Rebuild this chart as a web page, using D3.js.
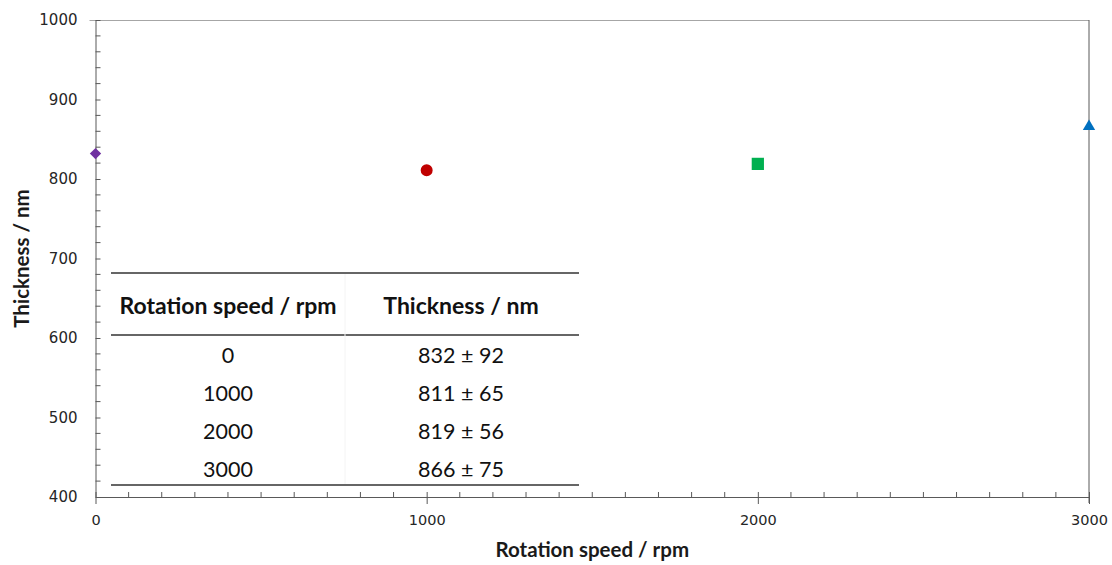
<!DOCTYPE html>
<html>
<head>
<meta charset="utf-8">
<script src="https://cdn.jsdelivr.net/npm/d3@7"></script>
<style>
  body { margin: 0; background: #fff; }
  svg { display: block; }
</style>
</head>
<body>
<div id="chart"></div>
<script>
// data
const speeds = [0, 1000, 2000, 3000];
const thickness = [832, 811, 819, 866];
const errors = [92, 65, 56, 75];
const colors = ['#7030A0', '#C00000', '#00B050', '#0070C0'];
const symbols = [d3.symbolSquare, d3.symbolCircle, d3.symbolSquare, d3.symbolTriangle];
const symbolSizes = [64, 113, 150, 66];
const symbolRotate = [45, 0, 0, 0];
const xTicks = [0, 1000, 2000, 3000];
const yTicks = [400, 500, 600, 700, 800, 900, 1000];
const tableHeader = ['Rotation speed / rpm', 'Thickness / nm'];

const W = 1112, H = 565;
const MARGIN = { TOP: 20, BOTTOM: 68, LEFT: 95.5, RIGHT: 23 };
const WIDTH = W - MARGIN.LEFT - MARGIN.RIGHT;
const HEIGHT = H - MARGIN.TOP - MARGIN.BOTTOM;
const axisColor = '#595959';
const tickFont = '"DejaVu Sans", sans-serif';
const titleFont = 'Lato, sans-serif';

const svg = d3.select('#chart')
    .append('svg')
    .attr('width', W)
    .attr('height', H)
    .append('g')
    .attr('transform', `translate(${MARGIN.LEFT}, ${MARGIN.TOP})`);

const x = d3.scaleLinear().domain([0, 3000]).range([0, WIDTH]);
const y = d3.scaleLinear().domain([400, 1000]).range([HEIGHT, 0]);

// frame top and right
svg.append('line')
    .attr('x1', -6).attr('x2', WIDTH).attr('y1', 0.5).attr('y2', 0.5)
    .attr('stroke', '#a6a6a6');
svg.append('line')
    .attr('x1', WIDTH).attr('x2', WIDTH).attr('y1', 0).attr('y2', HEIGHT + 6)
    .attr('stroke', axisColor);

// minor ticks
const xMinor = d3.range(100, 3000, 100).filter(v => v % 1000 !== 0);
svg.append('g').selectAll('line').data(xMinor).enter().append('line')
    .attr('x1', d => x(d)).attr('x2', d => x(d))
    .attr('y1', HEIGHT).attr('y2', HEIGHT - 5)
    .attr('stroke', axisColor);
const yMinor = d3.range(420, 1000, 20).filter(v => v % 100 !== 0);
svg.append('g').selectAll('line').data(yMinor).enter().append('line')
    .attr('x1', 0).attr('x2', 5)
    .attr('y1', d => y(d)).attr('y2', d => y(d))
    .attr('stroke', axisColor);

// axes
const xAxisGroup = svg.append('g')
    .attr('transform', `translate(0, ${HEIGHT})`)
    .call(d3.axisBottom(x).tickValues(xTicks).tickFormat(d3.format('d'))
        .tickSize(7).tickSizeOuter(0).tickPadding(11));
const yAxisGroup = svg.append('g')
    .call(d3.axisLeft(y).tickValues(yTicks).tickFormat(d3.format('d'))
        .tickSize(6).tickSizeOuter(0).tickPadding(12));

[xAxisGroup, yAxisGroup].forEach(g => {
    g.selectAll('.domain').attr('stroke', axisColor);
    g.selectAll('.tick line').attr('stroke', axisColor);
    g.selectAll('.tick text')
        .attr('fill', '#262626')
        .style('font-family', tickFont);
});
xAxisGroup.selectAll('.tick text').style('font-size', '14.5px');
yAxisGroup.selectAll('.tick text').style('font-size', '15px');
// major ticks cross the axis
yAxisGroup.selectAll('.tick line').attr('x2', 5);
xAxisGroup.selectAll('.tick line').attr('y1', -5);

// axis titles
svg.append('text')
    .attr('x', WIDTH / 2)
    .attr('y', HEIGHT + 60)
    .attr('text-anchor', 'middle')
    .style('font-family', titleFont)
    .style('font-weight', 'bold')
    .style('font-size', '20.5px')
    .attr('fill', '#1a1a1a')
    .text('Rotation speed / rpm');

svg.append('text')
    .attr('x', -HEIGHT / 2)
    .attr('y', -67)
    .attr('text-anchor', 'middle')
    .attr('transform', 'rotate(-90)')
    .style('font-family', titleFont)
    .style('font-weight', 'bold')
    .style('font-size', '20.5px')
    .attr('fill', '#1a1a1a')
    .text('Thickness / nm');

// points
svg.append('g').selectAll('path.pt')
    .data(speeds)
    .enter()
    .append('path')
    .attr('class', 'pt')
    .attr('transform', (d, i) => `translate(${x(d)}, ${y(thickness[i])}) rotate(${symbolRotate[i]})`)
    .attr('d', (d, i) => d3.symbol().type(symbols[i]).size(symbolSizes[i])())
    .attr('fill', (d, i) => colors[i]);

// inset table
const table = svg.append('g').attr('transform', `translate(${111 - MARGIN.LEFT}, ${273 - MARGIN.TOP})`);
const TW = 468;
const colX = [117, 350];
const tableFont = 'Lato, sans-serif';

table.append('line').attr('x1', 0).attr('x2', TW).attr('y1', 0).attr('y2', 0)
    .attr('stroke', '#333').attr('stroke-width', 1.5);
table.append('line').attr('x1', 0).attr('x2', TW).attr('y1', 62).attr('y2', 62)
    .attr('stroke', '#333').attr('stroke-width', 1.5);
table.append('line').attr('x1', 0).attr('x2', TW).attr('y1', 212).attr('y2', 212)
    .attr('stroke', '#333').attr('stroke-width', 1.5);
table.append('line').attr('x1', 234).attr('x2', 234).attr('y1', 1).attr('y2', 211)
    .attr('stroke', '#f4f4f4');

table.selectAll('text.head').data(tableHeader).enter().append('text')
    .attr('class', 'head')
    .attr('x', (d, i) => colX[i])
    .attr('y', 41)
    .attr('text-anchor', 'middle')
    .style('font-family', tableFont)
    .style('font-weight', 'bold')
    .style('font-size', '23px')
    .attr('fill', '#111')
    .text(d => d);

const rowY = [90, 128, 166, 204];
const rows = table.selectAll('g.row').data(speeds).enter().append('g')
    .attr('class', 'row')
    .attr('transform', (d, i) => `translate(0, ${rowY[i]})`);
rows.append('text')
    .attr('x', colX[0])
    .attr('text-anchor', 'middle')
    .style('font-family', tableFont)
    .style('font-size', '21.5px')
    .attr('fill', '#111')
    .text(d => d);
rows.append('text')
    .attr('x', colX[1])
    .attr('text-anchor', 'middle')
    .style('font-family', tableFont)
    .style('font-size', '21.5px')
    .attr('fill', '#111')
    .text((d, i) => `${thickness[i]} ± ${errors[i]}`);
</script>
</body>
</html>
